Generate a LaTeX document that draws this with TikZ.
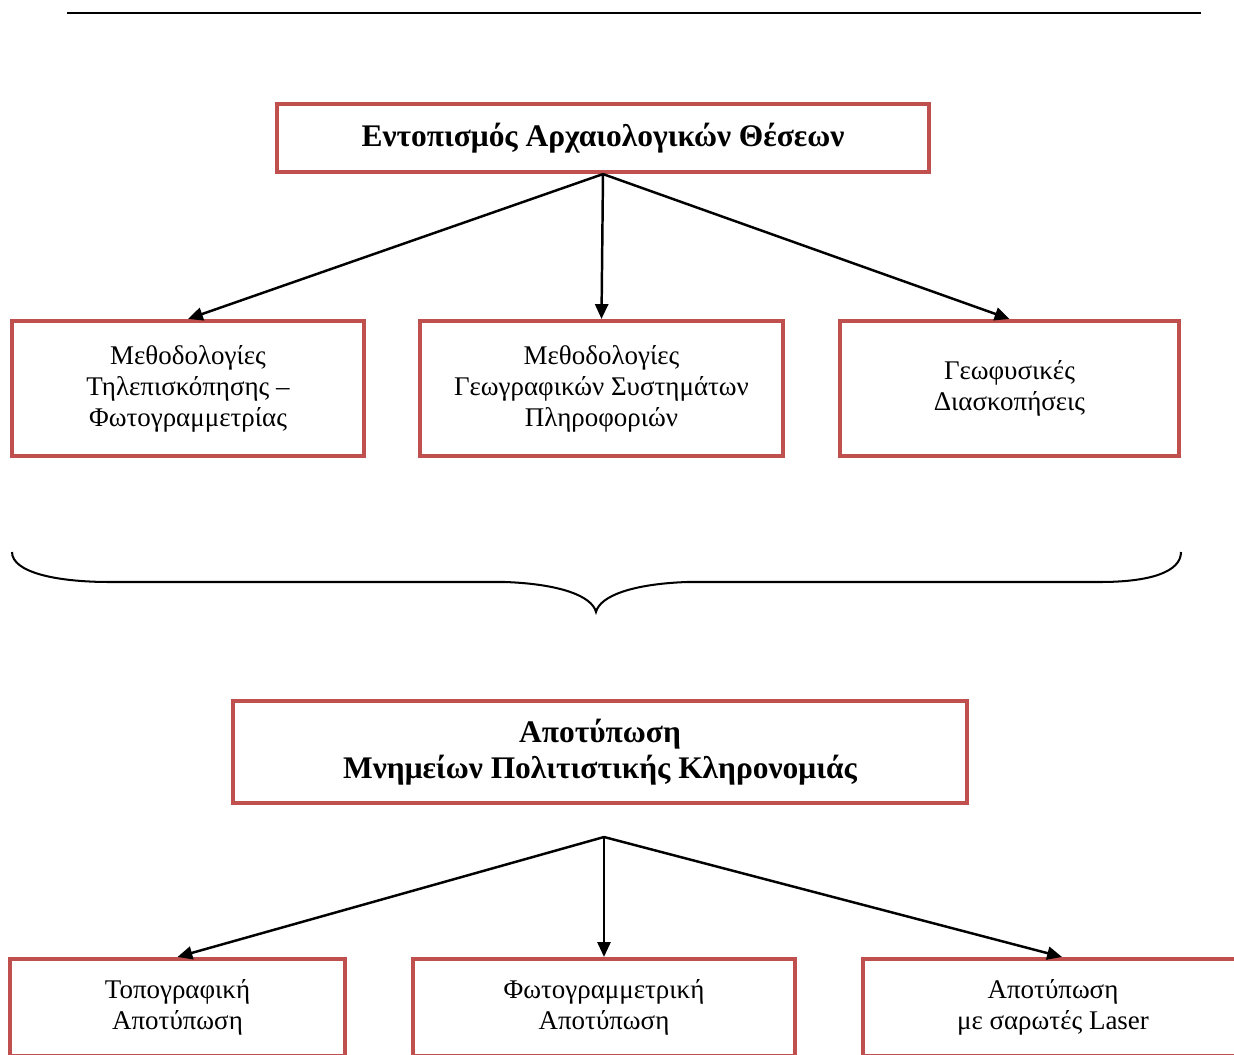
\documentclass[tikz,border=0pt]{standalone}
\usepackage{fontspec}
\setmainfont{Liberation Serif}
\usepackage{tikz}
\usetikzlibrary{arrows.meta}
\definecolor{boxred}{HTML}{C0504D}

\begin{document}
\begin{tikzpicture}[x=0.445pt, y=-0.445pt,
        box_style/.style={rectangle,draw=boxred,line width=1.8pt,fill=white,align=center,inner sep=0pt,font=\fontsize{12}{13.8}\selectfont},
        title_style/.style={box_style,font=\fontsize{14}{16.1}\selectfont\bfseries},
        edge_style/.style={draw=black,line width=1.1pt,-{Triangle[length=6.6pt,width=5.8pt]}}]

        \useasboundingbox (0,0) rectangle (1234,1055);
        \clip (0,0) rectangle (1234,1055);

        % rule at the head of the page
        \draw [line width=1pt] (67,13) -- (1201,13);

        \node [title_style,minimum width=290.1pt,minimum height=30.3pt](n1) at (603,138) {Εντοπισμός Αρχαιολογικών Θέσεων};

        \node [box_style,minimum width=156.6pt,minimum height=60.1pt](n2) at (188,388.5) {Μεθοδολογίες\\Τηλεπισκόπησης --\\Φωτογραμμετρίας};

        \node [box_style,minimum width=161.5pt,minimum height=60.1pt](n3) at (601.5,388.5) {Μεθοδολογίες\\Γεωγραφικών Συστημάτων\\Πληροφοριών};

        \node [box_style,minimum width=150.9pt,minimum height=60.1pt](n4) at (1009.5,388.5) {Γεωφυσικές\\Διασκοπήσεις};

        \draw [edge_style] (n1.south) -- (n2.north);
        \draw [edge_style] (n1.south) -- (n3.north);
        \draw [edge_style] (n1.south) -- (n4.north);

        % curly brace under the three methods
        \draw [line width=0.9pt] (12,552) .. controls (12,572) and (55,582) .. (110,582) -- (505,582)
            .. controls (560,584) and (592,596) .. (596,612)
            .. controls (600,596) and (632,584) .. (687,582) -- (1100,582)
            .. controls (1150,582) and (1181,572) .. (1181,552);

        \node [title_style,minimum width=326.6pt,minimum height=45.4pt](n5) at (600,752) {Αποτύπωση\\Μνημείων Πολιτιστικής Κληρονομιάς};

        \coordinate (fork) at (604,837);

        \node [box_style,minimum width=149.1pt,minimum height=43.2pt](n6) at (177.5,1007.5) {Τοπογραφική\\Αποτύπωση};

        \node [box_style,minimum width=170pt,minimum height=43.2pt](n7) at (604,1007.5) {Φωτογραμμετρική\\Αποτύπωση};

        \node [box_style,minimum width=169.1pt,minimum height=43.2pt](n8) at (1053,1007.5) {Αποτύπωση\\με σαρωτές Laser};

        \draw [edge_style] (fork) -- (n6.north);
        \draw [edge_style] (fork) -- (n7.north);
        \draw [edge_style] (fork) -- ([xshift=4pt]n8.north);

        \end{tikzpicture}
\end{document}
